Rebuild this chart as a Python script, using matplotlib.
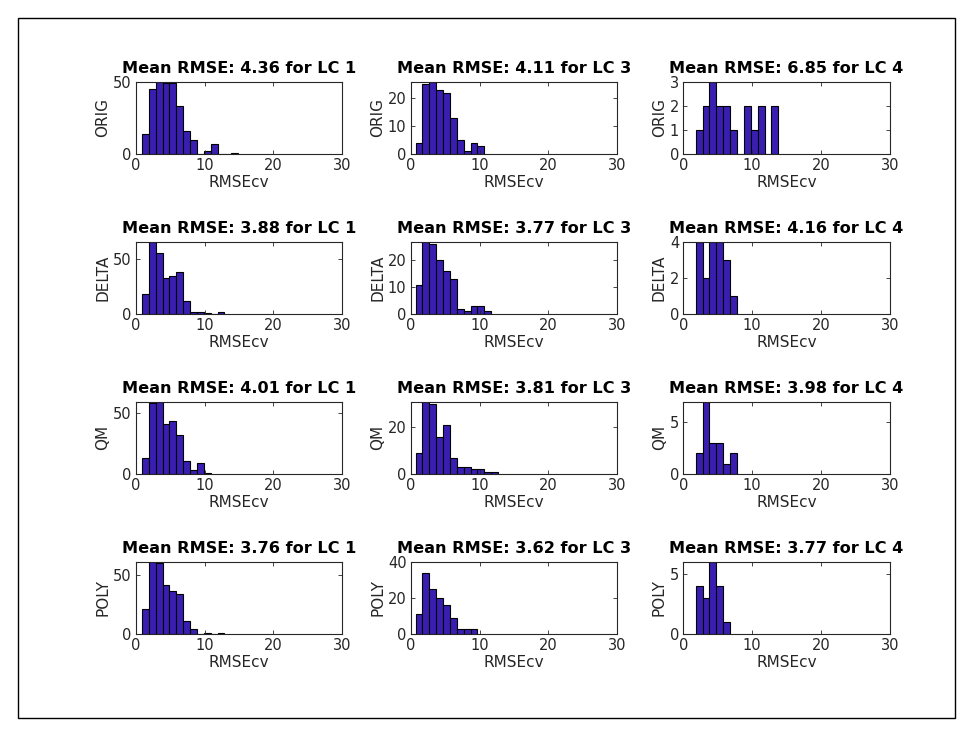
import matplotlib
matplotlib.use("Agg")
import matplotlib.pyplot as plt
from matplotlib.patches import Rectangle
import numpy as np

plt.rcParams['font.family'] = ['DejaVu Sans']

methods = ["ORIG", "DELTA", "QM", "POLY"]
classes = ["LC 1", "LC 3", "LC 4"]
mean_rmse = [
    [4.36, 4.11, 6.85],
    [3.88, 3.77, 4.16],
    [4.01, 3.81, 3.98],
    [3.76, 3.62, 3.77],
]
bin_start = [0.9, 0.7, 1.8]
bin_width = 1.0

counts_orig_lc1 = [14, 45, 50, 49, 49, 33, 16, 10, 0, 2, 7, 0, 0, 1]
counts_orig_lc3 = [4, 25, 26, 23, 22, 13, 5, 1, 4, 3]
counts_orig_lc4 = [1, 2, 3, 2, 2, 1, 0, 2, 1, 2, 0, 2]
counts_delta_lc1 = [18, 66, 56, 33, 35, 38, 12, 2, 2, 1, 0, 2]
counts_delta_lc3 = [11, 27, 26, 20, 16, 13, 2, 1, 3, 3, 1]
counts_delta_lc4 = [4, 2, 4, 4, 3, 1]
counts_qm_lc1 = [13, 58, 59, 41, 43, 32, 11, 3, 9, 1]
counts_qm_lc3 = [9, 31, 30, 16, 21, 7, 3, 3, 2, 2, 1, 1]
counts_qm_lc4 = [2, 7, 3, 3, 1, 2]
counts_poly_lc1 = [21, 61, 60, 41, 36, 34, 11, 4, 0, 1, 0, 1]
counts_poly_lc3 = [11, 34, 25, 20, 16, 9, 3, 3, 3]
counts_poly_lc4 = [4, 3, 6, 4, 1]

counts = [
    [counts_orig_lc1, counts_orig_lc3, counts_orig_lc4],
    [counts_delta_lc1, counts_delta_lc3, counts_delta_lc4],
    [counts_qm_lc1, counts_qm_lc3, counts_qm_lc4],
    [counts_poly_lc1, counts_poly_lc3, counts_poly_lc4],
]
ylim_top = [
    [50, 26, 3],
    [66, 27, 4],
    [59, 31, 7],
    [61, 40, 6],
]
yticks = [
    [[0, 50], [0, 10, 20], [0, 1, 2, 3]],
    [[0, 50], [0, 10, 20], [0, 2, 4]],
    [[0, 50], [0, 20], [0, 5]],
    [[0, 50], [0, 20, 40], [0, 5]],
]
xticks = [0, 10, 20, 30]

W, H = 973, 736
fig = plt.figure(figsize=(W / 100, H / 100), dpi=100)
fig.patch.set_facecolor("white")

col_left = [135.7, 410.7, 683.3]
ax_w = 206.5
row_bottom = [154, 314, 474, 634]
ax_h = 72.3

face = "#3a1eb2"
axcol = "#262626"

for r in range(4):
    for c in range(3):
        ax = fig.add_axes([col_left[c] / W, (H - row_bottom[r]) / H, ax_w / W, ax_h / H])
        cnt = np.array(counts[r][c], dtype=float)
        edges = bin_start[c] + bin_width * np.arange(len(cnt))
        ax.bar(edges, cnt, width=bin_width, align="edge", color=face,
               edgecolor="black", linewidth=0.8)
        ax.set_xlim(0, 30)
        ax.set_ylim(0, ylim_top[r][c])
        ax.set_xticks(xticks)
        ax.set_yticks(yticks[r][c])
        ax.tick_params(direction="in", length=3, width=0.6, top=True, right=True,
                       labelsize=10.5, colors=axcol, labelcolor=axcol, pad=3)
        for s in ax.spines.values():
            s.set_color(axcol)
            s.set_linewidth(0.8)
        ax.set_xlabel("RMSEcv", fontsize=11, color=axcol, labelpad=1)
        ax.set_ylabel(methods[r], fontsize=11, color=axcol, labelpad=2)
        ax.set_title("Mean RMSE: %.2f for %s" % (mean_rmse[r][c], classes[c]),
                     fontsize=11.6, fontweight="bold", color="black", pad=6)

fig.add_artist(Rectangle((18 / W, 18 / H), (955 - 18) / W, (718 - 18) / H,
                         transform=fig.transFigure, fill=False,
                         edgecolor="black", linewidth=1.0))

fig.savefig("out.png", dpi=100)
